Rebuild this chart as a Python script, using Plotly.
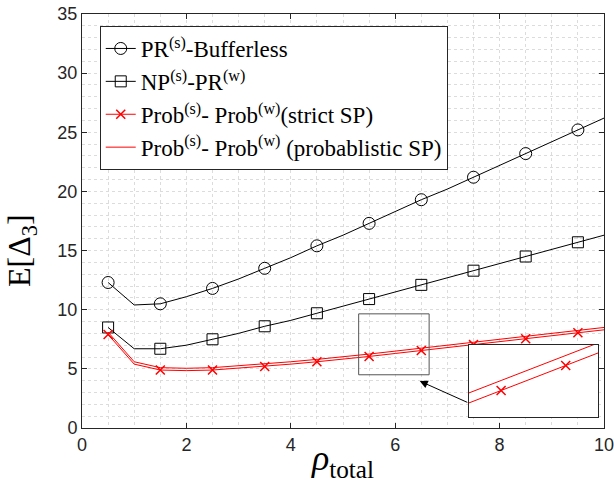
import plotly.graph_objects as go

x = [0.5, 1, 1.5, 2, 2.5, 3, 3.5, 4, 4.5, 5, 5.5, 6, 6.5, 7, 7.5, 8, 8.5, 9, 9.5, 10]
pr_bufferless = [12.3, 10.4, 10.5, 11.1, 11.8, 12.6, 13.5, 14.4, 15.4, 16.3, 17.3, 18.3, 19.3, 20.2, 21.2, 22.2, 23.2, 24.2, 25.2, 26.2]
np_pr = [8.5, 6.7, 6.7, 7.0, 7.5, 8.0, 8.6, 9.1, 9.7, 10.3, 10.9, 11.5, 12.1, 12.7, 13.3, 13.9, 14.5, 15.1, 15.7, 16.3]
prob_strict = [7.9, 5.4, 4.9, 4.85, 4.9, 5.05, 5.2, 5.4, 5.6, 5.8, 6.05, 6.3, 6.55, 6.8, 7.05, 7.3, 7.55, 7.8, 8.05, 8.3]
prob_prob = [8.1, 5.6, 5.1, 5.05, 5.1, 5.25, 5.4, 5.6, 5.8, 6.0, 6.25, 6.5, 6.75, 7.0, 7.25, 7.5, 7.75, 8.0, 8.25, 8.5]

names = ["PR<sup>(s)</sup>-Bufferless", "NP<sup>(s)</sup>-PR<sup>(w)</sup>",
         "Prob<sup>(s)</sup>- Prob<sup>(w)</sup>(strict SP)",
         "Prob<sup>(s)</sup>- Prob<sup>(w)</sup> (probablistic SP)"]

# markers every other point
mx = x[0::2]

fig = go.Figure()

def add_series(y, name, color, symbol, msize, xa='x', ya='y', show=True, mlw=1):
    grp = name
    fig.add_trace(go.Scatter(x=x, y=y, mode='lines', line=dict(color=color, width=1),
                             xaxis=xa, yaxis=ya, showlegend=False, legendgroup=grp, hoverinfo='skip'))
    if symbol is not None:
        fig.add_trace(go.Scatter(x=mx, y=y[0::2], mode='markers', xaxis=xa, yaxis=ya,
                                 marker=dict(symbol=symbol, size=msize, color=color,
                                             line=dict(color=color, width=mlw)),
                                 showlegend=False, legendgroup=grp))
    if show:
        fig.add_trace(go.Scatter(x=[None], y=[None], mode='lines+markers' if symbol else 'lines',
                                 name=name, line=dict(color=color, width=1),
                                 marker=dict(symbol=symbol or 'circle', size=msize, color=color,
                                             line=dict(color=color, width=mlw)),
                                 legendgroup=grp))

add_series(pr_bufferless, names[0], 'black', 'circle-open', 12)
add_series(np_pr, names[1], 'black', 'square-open', 11)
add_series(prob_strict, names[2], 'red', 'x-thin-open', 9, mlw=1.5)
add_series(prob_prob, names[3], 'red', None, 8)

# inset
add_series(prob_strict, names[2], 'red', 'x-thin-open', 9, xa='x2', ya='y2', show=False, mlw=1.5)
add_series(prob_prob, names[3], 'red', None, 8, xa='x2', ya='y2', show=False)

grid = dict(showgrid=True, gridcolor='#dcdcdc', griddash='dot', gridwidth=1)
fig.update_layout(
    width=614, height=483,
    margin=dict(l=82, r=10, t=14, b=55),
    paper_bgcolor='white', plot_bgcolor='white',
    font=dict(family='Liberation Sans', size=18, color='#262626'),
    xaxis=dict(range=[0, 10], dtick=2, ticks='inside', ticklen=5, tickcolor='#262626',
               showline=True, linecolor='#262626', mirror='ticks', zeroline=False,
               automargin=False, ticklabeloverflow='allow',
               minor=dict(dtick=0.5, **grid), **grid,
               title=dict(text='<i>ρ</i><sub>total</sub>', standoff=0,
                          font=dict(family='Liberation Serif', size=36, color='black'))),
    yaxis=dict(range=[0, 35], dtick=5, ticks='inside', ticklen=5, tickcolor='#262626',
               showline=True, linecolor='#262626', mirror='ticks', zeroline=False,
               automargin=False, ticklabeloverflow='allow',
               minor=dict(dtick=1, **grid), **grid),
    xaxis2=dict(domain=[0.741, 0.9885], anchor='y2', range=[5, 7], showticklabels=False,
                ticks='', showgrid=False, zeroline=False, showline=True, linecolor='#262626', mirror=True),
    yaxis2=dict(domain=[0.0266, 0.2005], anchor='x2', range=[5.52, 6.96], showticklabels=False,
                ticks='', showgrid=False, zeroline=False, showline=True, linecolor='#262626', mirror=True),
    legend=dict(x=0.034, y=0.971, xanchor='left', yanchor='top', bgcolor='white',
                bordercolor='#262626', borderwidth=1,
                font=dict(family='Liberation Serif', size=23, color='black'),
                itemwidth=30, tracegroupgap=0),
    showlegend=True,
)

# y-axis title as annotation (placed slightly below centre, as in the reference)
fig.add_annotation(text='E[Δ<sub>3</sub>]', xref='paper', yref='paper', x=-0.115, y=0.43,
                   textangle=-90, showarrow=False, xanchor='center', yanchor='middle',
                   font=dict(family='Liberation Serif', size=32, color='black'))

fig.add_shape(type='rect', xref='x', yref='y', x0=5.3, x1=6.65, y0=4.5, y1=9.65,
              line=dict(color='#555555', width=1))
fig.add_annotation(x=6.47, y=3.97, ax=7.41, ay=2.11, xref='x', yref='y', axref='x', ayref='y',
                   showarrow=True, arrowhead=2, arrowsize=1.6, arrowwidth=1, arrowcolor='black', text='')

fig.write_html('out.html', config={'displayModeBar': False},
               post_script="document.body.style.margin='0';")
